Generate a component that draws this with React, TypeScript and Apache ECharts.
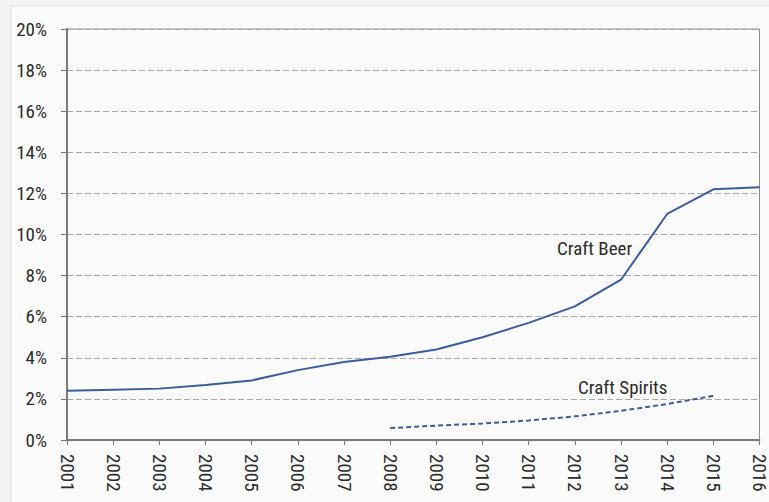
import React, { useEffect, useRef } from "react";
import * as echarts from "echarts";

const years = ["2001","2002","2003","2004","2005","2006","2007","2008","2009","2010","2011","2012","2013","2014","2015","2016"];
const craftBeer = [2.4, 2.45, 2.5, 2.68, 2.9, 3.4, 3.8, 4.05, 4.4, 5.0, 5.7, 6.5, 7.8, 11.0, 12.2, 12.3];
const craftSpirits = [null, null, null, null, null, null, null, 0.58, 0.7, 0.8, 0.95, 1.15, 1.42, 1.75, 2.15, null];
const yTicks = [0, 2, 4, 6, 8, 10, 12, 14, 16, 18, 20];

const FAMILY = "Roboto Condensed";
const FONT = "19px 'Roboto Condensed', sans-serif";

export default function App() {
  const ref = useRef<HTMLDivElement>(null);
  useEffect(() => {
    const chart = echarts.init(ref.current!, null, { renderer: "svg" });
    chart.setOption({
      animation: false,
      backgroundColor: "#f4f4f4",
      graphic: [
        {
          type: "rect",
          shape: { x: 11, y: 6, width: 770, height: 510 },
          style: { fill: "#fbfbfb", stroke: "#e2e2e2", lineWidth: 1 },
          z: -10,
        },
        {
          type: "text",
          x: 557,
          y: 239,
          style: { text: "Craft Beer", font: FONT, fill: "#2b2b2b" },
        },
        {
          type: "text",
          x: 578,
          y: 378,
          style: { text: "Craft Spirits", font: FONT, fill: "#2b2b2b" },
        },
      ],
      grid: {
        left: 67,
        top: 29,
        right: 3,
        bottom: 62,
        show: true,
        borderColor: "#8a8a8a",
        borderWidth: 1,
        backgroundColor: "transparent",
      },
      xAxis: {
        type: "category",
        data: years,
        boundaryGap: false,
        axisLine: { lineStyle: { color: "#7a7a7a", width: 2 } },
        axisTick: { show: true, alignWithLabel: true, length: 5, lineStyle: { color: "#7a7a7a" } },
        axisLabel: {
          rotate: -90,
          interval: 0,
          margin: 14,
          color: "#2b2b2b",
          fontFamily: FAMILY,
          fontSize: 19,
        },
        splitLine: { show: false },
      },
      yAxis: {
        type: "value",
        min: 0,
        max: 20,
        interval: 2,
        axisLine: { show: true, lineStyle: { color: "#7a7a7a", width: 2 } },
        axisTick: { show: true, length: 6, lineStyle: { color: "#7a7a7a" } },
        axisLabel: {
          formatter: (v: number) => (yTicks.includes(v) ? `${v}%` : ""),
          color: "#2b2b2b",
          fontFamily: FAMILY,
          fontSize: 19,
          margin: 20,
        },
        splitLine: { show: true, lineStyle: { color: "#a8a8a8", type: [6, 3], width: 1 } },
      },
      series: [
        {
          name: "Craft Beer",
          type: "line",
          data: craftBeer,
          showSymbol: false,
          lineStyle: { color: "#3b5c9b", width: 2 },
        },
        {
          name: "Craft Spirits",
          type: "line",
          data: craftSpirits,
          showSymbol: false,
          connectNulls: false,
          lineStyle: { color: "#3b5c9b", width: 2, type: [5, 3] },
        },
      ],
    });
    return () => chart.dispose();
  }, []);
  return (
    <div
      ref={ref}
      style={{ position: "absolute", left: 0, top: 0, width: 769, height: 502 }}
    />
  );
}
